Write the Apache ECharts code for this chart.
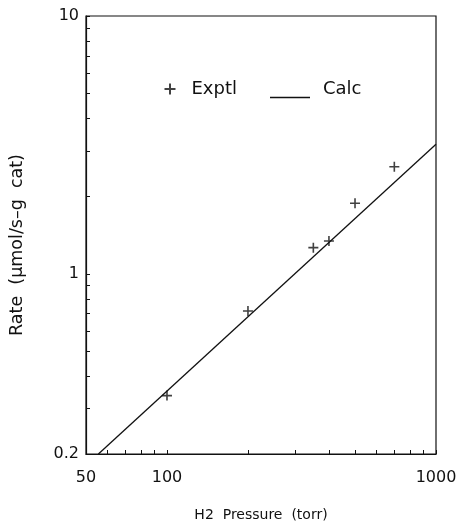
<!DOCTYPE html>
<html>
<head>
<meta charset="utf-8">
<script src="https://cdn.jsdelivr.net/npm/echarts@6/dist/echarts.min.js"></script>
<style>
  html, body { margin: 0; padding: 0; background: #fff; }
  #chart { width: 459px; height: 523px; }
</style>
</head>
<body>
<div id="chart"></div>
<script>
//实验点：H2 压力 (torr) 与速率
const pressure = [100, 200, 350, 400, 500, 700]
const rateExptl = [0.337, 0.717, 1.263, 1.34, 1.877, 2.6]
//计算线
const calcPressure = [55.6, 1000]
const rateCalc = [0.2, 3.18]
//刻度
const xLabels = [50, 100, 1000]
const xTicks = [50, 60, 70, 80, 90, 100, 200, 300, 400, 500, 600, 700, 800, 900, 1000]
const yLabels = [0.2, 1, 10]
const yTicks = [0.2, 0.3, 0.4, 0.5, 0.6, 0.7, 0.8, 0.9, 1, 2, 3, 4, 5, 6, 7, 8, 9, 10]

const ink = '#111'
const font = 'DejaVu Sans'

let mycharts = echarts.init(document.getElementById('chart'))
mycharts.setOption({
  animation: false,
  textStyle: { fontFamily: font, color: ink },
  grid: {
    left: 86,
    right: 23,
    top: 16,
    bottom: 69,
    containLabel: false,
    outerBoundsMode: 'none',
    show: true,
    borderColor: ink,
    borderWidth: 1.2,
  },
  legend: [
    {
      data: ['Exptl'],
      left: 162,
      top: 80,
      padding: 0,
      itemWidth: 11,
      itemHeight: 11,
      textStyle: { fontFamily: font, fontSize: 18, color: ink, padding: [0, 0, 0, 11] },
    },
    {
      //图例线条放在文字基线下方
      data: [{ name: 'Calc', icon: 'path://M0,0M0,16L40,16L40,17.6L0,17.6Z' }],
      left: 270,
      top: 80.5,
      padding: 0,
      itemWidth: 40,
      itemHeight: 17.6,
      textStyle: { fontFamily: font, fontSize: 18, color: ink, padding: [0, 0, 0, 8] },
    },
  ],
  xAxis: {
    type: 'log',
    logBase: 10,
    min: 50,
    max: 1000,
    name: 'H2  Pressure  (torr)',
    nameLocation: 'middle',
    nameGap: 54,
    nameTextStyle: { fontFamily: font, fontSize: 14, color: ink },
    axisLine: { show: true, lineStyle: { color: ink, width: 1.2 } },
    axisTick: { show: true, inside: true, length: 4, customValues: xTicks, lineStyle: { color: ink } },
    axisLabel: {
      customValues: xLabels,
      margin: 16,
      fontFamily: font,
      fontSize: 16,
      color: ink,
      formatter: (v) => String(+(+v).toPrecision(6)),
    },
    splitLine: { show: false },
    minorTick: { show: false },
  },
  yAxis: {
    type: 'log',
    logBase: 10,
    min: 0.2,
    max: 10,
    name: 'Rate  (μmol/s–g  cat)',
    nameLocation: 'middle',
    nameGap: 60,
    nameTextStyle: { fontFamily: font, fontSize: 17.5, color: ink, padding: [0, 20, 0, 0] },
    axisLine: { show: true, lineStyle: { color: ink, width: 1.2 } },
    axisTick: { show: true, inside: true, length: 4, customValues: yTicks, lineStyle: { color: ink } },
    axisLabel: {
      customValues: yLabels,
      margin: 7,
      fontFamily: font,
      fontSize: 16,
      color: ink,
      formatter: (v) => String(+(+v).toPrecision(6)),
    },
    splitLine: { show: false },
    minorTick: { show: false },
  },
  series: [
    {
      name: 'Exptl',
      type: 'scatter',
      data: pressure.map((p, i) => [p, rateExptl[i]]),
      symbol: 'path://M5,0L5,10M0,5L10,5',
      symbolSize: 10,
      itemStyle: { color: 'none', borderColor: ink, borderWidth: 1.6 },
      z: 3,
    },
    {
      name: 'Calc',
      type: 'line',
      data: calcPressure.map((p, i) => [p, rateCalc[i]]),
      symbol: 'none',
      itemStyle: { color: ink },
      lineStyle: { color: ink, width: 1.3 },
      z: 2,
    },
  ],
})
</script>
</body>
</html>
